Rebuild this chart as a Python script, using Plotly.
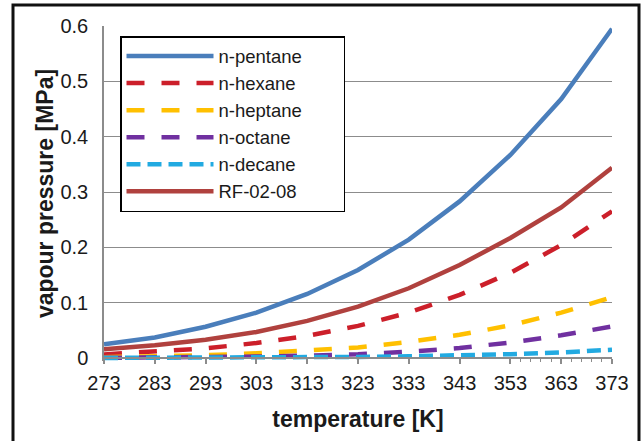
import plotly.graph_objects as go

# Temperature grid [K]
temperature = [273, 283, 293, 303, 313, 323, 333, 343, 353, 363, 373]

# Vapour pressure [MPa] of each fluid
p_pentane = [0.025, 0.037, 0.0565, 0.082, 0.1157, 0.159, 0.214, 0.283, 0.367, 0.468, 0.595]
p_hexane = [0.0065, 0.011, 0.0175, 0.027, 0.040, 0.058, 0.082, 0.114, 0.154, 0.204, 0.265]
p_heptane = [0.0015, 0.003, 0.005, 0.0085, 0.013, 0.019, 0.029, 0.042, 0.059, 0.082, 0.110]
p_octane = [0.0004, 0.0008, 0.0015, 0.0026, 0.0043, 0.0068, 0.0115, 0.018, 0.028, 0.041, 0.057]
p_decane = [0.0001, 0.0002, 0.0004, 0.0007, 0.0012, 0.002, 0.003, 0.0045, 0.007, 0.010, 0.015]
p_rf = [0.016, 0.023, 0.033, 0.047, 0.067, 0.093, 0.126, 0.168, 0.217, 0.272, 0.344]

series_names = ["n-pentane", "n-hexane", "n-heptane", "n-octane", "n-decane", "RF-02-08"]
series_values = [p_pentane, p_hexane, p_heptane, p_octane, p_decane, p_rf]
series_colors = ["#4A7EBB", "#CC1F2A", "#FFC000", "#7030A0", "#22AAE1", "#B0413E"]
series_dash = ["solid", "18px,17px", "18px,17px", "18px,17px", "14px,7px", "solid"]

x_ticks = list(range(273, 374, 10))
x_minor_ticks = list(range(355, 372, 2))
y_ticks = [0, 0.1, 0.2, 0.3, 0.4, 0.5, 0.6]
y_ticktext = ["0", "0.1", "0.2", "0.3", "0.4", "0.5", "0.6"]

FONT = "Liberation Sans, Arial, sans-serif"
GRID = "#8c8c8c"
# blank room after the longest entry so the legend box is wider
LEGEND_PAD = "\u00a0" * 7 + "\u200b"

fig = go.Figure()
for name, vals, col, dash in zip(series_names, series_values, series_colors, series_dash):
    fig.add_trace(go.Scatter(
        x=temperature, y=vals, name=name + LEGEND_PAD, mode="lines",
        line=dict(color=col, width=4.5, dash=dash),
        hovertemplate=name + ": %{y} MPa<extra></extra>",
    ))

# plot area geometry (px)
m_l, m_r, m_t, m_b = 104, 30, 26, 80
plot_h = 441 - m_t - m_b
px_per_unit = (358 - m_t) / 0.6
y_low = -(441 - m_b - 358) / px_per_unit
axis_pos = (441 - m_b - 358) / plot_h

fig.update_layout(
    width=642, height=441,
    margin=dict(l=m_l, r=m_r, t=m_t, b=m_b),
    paper_bgcolor="white", plot_bgcolor="white",
    font=dict(family=FONT, size=20, color="#1a1a1a"),
    showlegend=True,
    legend=dict(
        x=(120 - m_l) / 508, y=(441 - m_b - 36) / plot_h,
        xanchor="left", yanchor="top",
        bgcolor="white", bordercolor="black", borderwidth=1.5,
        font=dict(family=FONT, size=18.5, color="#1a1a1a"),
        itemwidth=87,
    ),
    xaxis=dict(
        range=[273, 373], tickmode="array", tickvals=x_ticks,
        ticks="outside", ticklen=5, tickwidth=1.5, tickcolor=GRID,
        showline=True, linecolor=GRID, linewidth=1.5,
        showgrid=False, zeroline=False,
        anchor="free", position=axis_pos,
        tickfont=dict(size=20), ticklabelstandoff=2,
        title=dict(text="<b>temperature [K]</b>", font=dict(size=23), standoff=17),
    ),
    xaxis2=dict(
        range=[273, 373], overlaying="x", side="bottom",
        tickmode="array", tickvals=x_minor_ticks,
        ticks="outside", ticklen=3, tickwidth=1.2, tickcolor=GRID,
        showticklabels=False, showline=False, showgrid=False, zeroline=False,
        anchor="free", position=axis_pos,
    ),
    yaxis=dict(
        range=[y_low, 0.6], tickmode="array", tickvals=y_ticks, ticktext=y_ticktext,
        ticks="", showgrid=True, gridcolor=GRID, gridwidth=1.3,
        showline=True, linecolor=GRID, linewidth=1.5, zeroline=False,
        tickfont=dict(size=20), ticklabelstandoff=10,
        title=dict(text="<b>vapour pressure [MPa]</b>", font=dict(size=23), standoff=0),
    ),
)

# dummy trace so the minor-tick axis is rendered
fig.add_trace(go.Scatter(x=[273], y=[None], xaxis="x2", showlegend=False, hoverinfo="skip"))

# outer frame around the figure
fig.add_shape(
    type="rect", xref="paper", yref="paper",
    x0=(13 - m_l) / 508, x1=(639 - m_l) / 508,
    y0=(441 - m_b - 460) / plot_h, y1=(441 - m_b - 5) / plot_h,
    line=dict(color="#111111", width=3), fillcolor="rgba(0,0,0,0)", layer="above",
)

fig.write_html("out.html")
